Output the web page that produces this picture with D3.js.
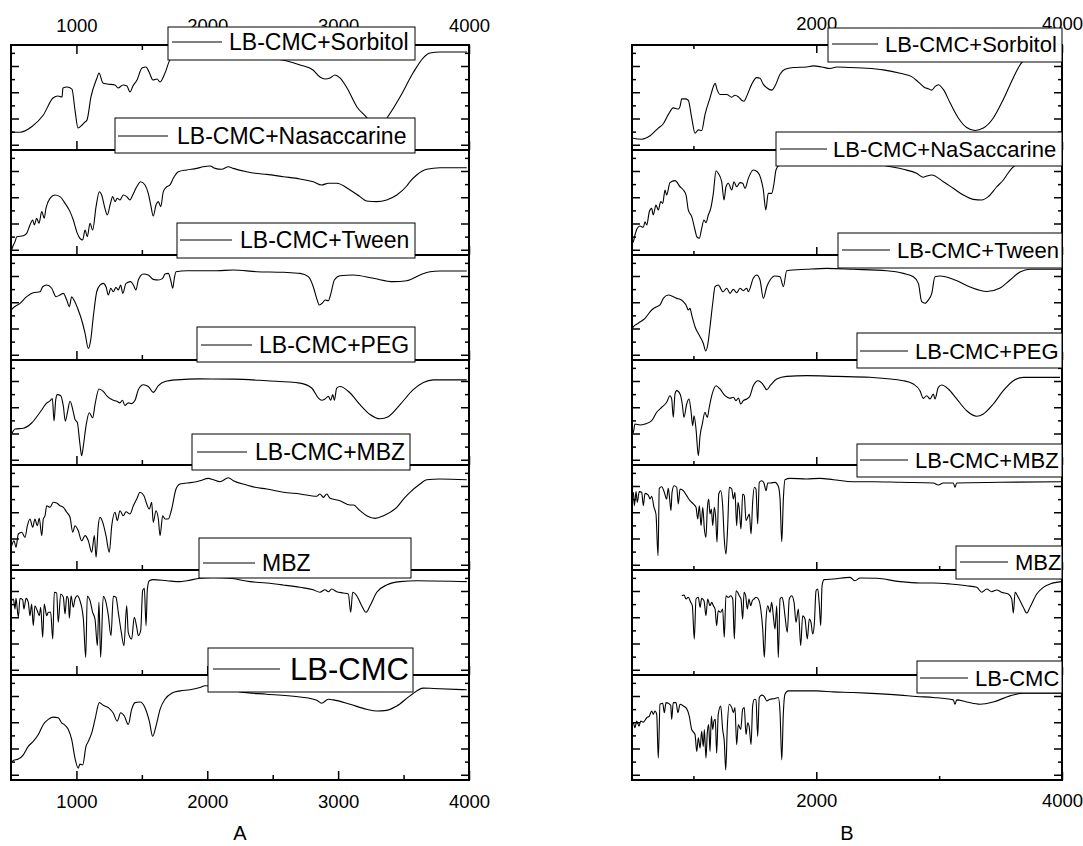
<!DOCTYPE html>
<html>
<head>
<meta charset="utf-8">
<script src="https://cdn.jsdelivr.net/npm/d3@7"></script>
<style>
  body { margin: 0; background: #fff; }
  svg { display: block; }
  text { font-family: "Liberation Sans", Arial, Helvetica, sans-serif; fill: #000; }
</style>
</head>
<body>
<svg id="chart" width="1083" height="846"></svg>
<script>
// ---------------- data ----------------
// wavenumber axis (cm-1)
const wavenumberDomain = [500, 4000];
const wavenumberTicksA = [1000, 2000, 3000, 4000];
const minorTicksA = [1500, 2500, 3500];
const wavenumberTicksB = [2000, 4000];
const minorTicksB = [1000, 3000];
// relative transmittance ticks inside every stacked layer
const transMajorTicks = [5, 30, 55, 80];
const transMinorTicks = [17.5, 42.5, 67.5, 92.5];

const panelTitles = ["A", "B"];
const sampleLabelsA = ["LB-CMC+Sorbitol", "LB-CMC+Nasaccarine", "LB-CMC+Tween", "LB-CMC+PEG", "LB-CMC+MBZ", "MBZ", "LB-CMC"];
const sampleLabelsB = ["LB-CMC+Sorbitol", "LB-CMC+NaSaccarine", "LB-CMC+Tween", "LB-CMC+PEG", "LB-CMC+MBZ", "MBZ", "LB-CMC"];

// spectra: [wavenumber, relative transmittance (0-100 within its layer)]
const specA1 = [[505,16.9],[518,16.9],[569,16.9],[658,22.2],[747,33.3],[821,49.5],[859,51.4],[890,50.5],[897,59],[928,60],[966,58],[989,38],[1012,21],[1043,23.8],[1066,26.7],[1081,28.6],[1111,50.5],[1157,68.6],[1172,73.3],[1203,63.8],[1234,62.9],[1295,61.9],[1318,59],[1356,61.9],[1386,61],[1409,55.2],[1432,61],[1463,66.7],[1501,78.1],[1532,79],[1555,74.3],[1585,66.7],[1616,67.6],[1639,64.8],[1677,73.3],[1715,85.7],[1792,91.4],[1944,92.4],[2174,90.5],[2403,88.6],[2609,84.8],[2709,81],[2808,76.2],[2861,69.5],[2900,67.6],[2938,68.6],[2976,71.4],[3014,68.6],[3068,59],[3144,41],[3221,30.5],[3260,24],[3297,22],[3335,24],[3373,30.5],[3473,50.5],[3572,73.3],[3649,87.6],[3702,92.4],[3778,93.3],[3985,93.3]];
const specA2 = [[505,5],[513,7.9],[531,12.7],[544,17.4],[594,18.4],[620,20.6],[645,28.6],[666,33.3],[678,28.6],[696,35],[714,30.2],[735,41.3],[754,35],[767,44.4],[798,54],[836,57.1],[874,55.6],[913,49.2],[951,41.3],[976,33.3],[1007,20.6],[1027,15.9],[1048,14.3],[1066,23.8],[1083,17.5],[1104,30.2],[1124,23.8],[1150,46],[1175,60.3],[1193,57.1],[1218,44.4],[1236,38.1],[1257,47.6],[1277,55.6],[1295,50.8],[1312,54],[1333,52.4],[1358,57.1],[1384,55.6],[1409,52.4],[1430,57.1],[1461,65],[1491,69.8],[1524,66.7],[1549,58.7],[1568,47.6],[1587,37.1],[1608,47.6],[1626,50.8],[1644,46],[1664,60.3],[1690,65],[1715,66.7],[1740,73],[1779,79.3],[1843,81],[1919,82.5],[1970,84.1],[2021,84.8],[2059,82.5],[2110,81.6],[2161,84.1],[2199,82.5],[2301,79.3],[2365,77.8],[2454,76.8],[2581,74.6],[2709,72.4],[2810,69.8],[2874,66.7],[2925,68.3],[2989,68.3],[3091,61.9],[3167,55.6],[3218,51.4],[3295,50.8],[3371,52.4],[3448,57.1],[3524,65.7],[3549,69.8],[3600,76.2],[3677,81.6],[3778,83.1],[3983,83.1]];
const specA3 = [[505,48],[513,49.2],[569,54],[620,60.3],[670,64.1],[722,65],[742,69.8],[773,71.4],[811,68.3],[844,60.3],[874,61.9],[900,63.5],[926,57.1],[946,50.8],[964,60.3],[981,57.1],[1014,47.6],[1040,38.1],[1066,25.4],[1091,11.1],[1109,19],[1129,41.3],[1155,65],[1180,71.4],[1205,73],[1226,69.8],[1244,61.9],[1262,68.3],[1282,65],[1302,69.2],[1320,66.7],[1338,71.4],[1354,63.5],[1379,73],[1415,74.6],[1435,71.4],[1455,66.7],[1473,76.2],[1511,81.9],[1549,81],[1587,76.8],[1626,76.2],[1659,77.8],[1677,81.9],[1702,82.5],[1720,76.2],[1736,68.3],[1748,77.8],[1761,84.1],[1843,85],[2072,85],[2199,85.7],[2378,84.1],[2581,83.5],[2709,82.5],[2772,79.4],[2810,69.8],[2836,58.7],[2856,52.4],[2882,54.6],[2900,57.1],[2925,56.5],[2945,63.5],[2971,76.2],[3014,80.3],[3116,81],[3269,77.8],[3422,74.6],[3524,75.5],[3626,81],[3702,84.1],[3778,84.8],[3983,84.8]];
const specA4 = [[505,29.5],[531,34.3],[594,35],[658,40],[722,50.2],[773,59],[798,61],[816,63.3],[829,42],[842,62.3],[854,67],[880,66],[900,56],[915,41.8],[933,51.2],[951,60.7],[972,52.8],[989,43.4],[1007,40.3],[1027,19.8],[1040,8.8],[1053,18.2],[1073,37],[1098,49.7],[1124,45],[1142,57.5],[1172,72.4],[1205,70.1],[1236,65.4],[1282,61.6],[1308,60.7],[1333,59.2],[1351,61.6],[1371,56.6],[1396,59.2],[1422,58.5],[1448,61.6],[1473,71.7],[1511,76.4],[1549,74.8],[1587,69.2],[1626,75.5],[1677,79.5],[1766,81.1],[1944,82],[2199,81.8],[2454,80.2],[2709,78],[2798,73.3],[2848,63.9],[2874,61.6],[2900,62.9],[2925,65.4],[2943,61.6],[2959,67],[2971,61.6],[2989,73.3],[3014,74.8],[3091,68.6],[3167,57.5],[3244,48.1],[3320,44],[3383,46],[3473,57.5],[3574,71.7],[3651,78.6],[3727,81.1],[3983,81.1]];
const specA5 = [[505,23.1],[523,27.9],[538,21.6],[556,34.3],[582,35.9],[607,31.1],[625,42.2],[645,48.6],[666,40.7],[683,48.6],[701,42.2],[716,49.2],[735,32.7],[747,48.6],[760,51.7],[773,61.2],[798,59.7],[823,64.5],[849,63.8],[874,61.2],[900,59.7],[926,55],[951,50.2],[972,35.9],[989,42.2],[1014,37.4],[1040,27.9],[1066,32.7],[1091,27.9],[1117,16.9],[1137,32.7],[1150,12.1],[1167,42.2],[1180,50.2],[1201,45.4],[1226,32.7],[1251,16.9],[1270,42.2],[1295,55],[1312,47],[1333,56.5],[1358,51.7],[1379,55.5],[1409,53.3],[1435,61.2],[1461,67.6],[1486,74],[1516,70.8],[1537,62.9],[1557,58.1],[1575,64.5],[1587,45.4],[1608,56.5],[1626,48.6],[1639,32.7],[1659,51.7],[1677,48.6],[1702,48.6],[1728,58.1],[1761,77.1],[1792,81.9],[1893,83.5],[1944,85],[2008,87.3],[2046,86],[2097,84.1],[2161,87.9],[2199,85],[2301,81],[2365,78.8],[2454,77.1],[2581,74],[2709,72.4],[2836,70.2],[2861,72.4],[2887,69.2],[2913,72.4],[2938,68.3],[3014,66],[3091,61.9],[3116,61.9],[3167,56.5],[3218,51.7],[3282,49.2],[3347,51.7],[3448,59.7],[3511,69.2],[3549,74],[3626,81.9],[3677,86],[3778,86.7],[3983,86]];
const specA6 = [[505,70.8],[518,72.4],[531,62.9],[538,73],[556,55],[569,73],[589,71.7],[599,62.9],[615,73],[632,69.2],[645,56.5],[658,67.6],[670,47],[683,66],[701,61.2],[716,56.5],[727,64.5],[742,35.9],[754,67.6],[773,56.5],[785,59.7],[803,59.7],[819,34.3],[831,78.8],[849,78.1],[861,50.2],[880,77.1],[900,74],[913,58.1],[926,75],[938,72.4],[946,54],[959,75.5],[976,64.5],[989,72.4],[1007,75.5],[1027,70.8],[1053,53.3],[1071,16.8],[1083,75],[1104,70.8],[1124,59.7],[1142,53.3],[1160,27.9],[1172,69.2],[1185,16.8],[1205,75],[1226,69.2],[1244,56.5],[1264,37.4],[1282,75],[1302,74],[1320,59.7],[1341,42.2],[1363,27.9],[1384,66],[1396,40.7],[1422,34.3],[1442,55],[1461,45.4],[1473,37.4],[1491,42.2],[1506,80.3],[1519,82.5],[1532,47],[1542,81.9],[1557,89.8],[1587,90.8],[1690,89.8],[1792,88.9],[1843,89.8],[1944,92.1],[2046,93],[2174,92.1],[2326,88.9],[2454,87.6],[2581,85.7],[2709,83.5],[2810,81.2],[2861,78.8],[2900,81.2],[2925,79.3],[2951,81.9],[2989,79.3],[3039,78.1],[3078,77.1],[3096,59.7],[3111,78.8],[3142,75.5],[3180,66],[3213,59.7],[3244,66],[3295,78.8],[3371,85.7],[3473,88.9],[3600,89.8],[3983,88.9]];
const specA7 = [[500,16],[518,18.6],[556,19.9],[594,24],[632,32],[670,36.8],[709,43.3],[747,52.9],[785,57.7],[823,59.9],[861,59.3],[887,54.5],[905,52.9],[938,48.1],[964,38.5],[989,20.9],[1014,11.2],[1027,15.1],[1048,14.4],[1073,32],[1091,36.8],[1117,44.9],[1142,57.7],[1175,73.7],[1205,71.2],[1244,68.9],[1282,63.5],[1312,56.1],[1338,64.1],[1366,60.9],[1396,52.9],[1422,67.3],[1448,73.7],[1486,74.3],[1524,68.9],[1557,56.1],[1583,41.6],[1608,51.3],[1639,67.3],[1677,76.9],[1728,82.7],[1792,84.9],[1868,85.9],[1944,88.1],[1983,89.7],[2100,88],[2250,83.9],[2454,81.7],[2709,79.1],[2836,76],[2874,73.1],[2925,76.9],[2963,76.3],[3091,72.1],[3218,67.3],[3295,65.7],[3371,66.3],[3448,70.5],[3549,80.1],[3651,87.5],[3727,87.2],[3983,85.9]];

const specB1 = [[502,11.5],[511,11.2],[579,10.3],[647,13.5],[714,20.9],[755,25],[795,33.7],[836,40.1],[877,39.1],[891,41.6],[905,48.7],[931,48.7],[958,47.4],[986,30.5],[1013,16],[1040,19.2],[1067,18.6],[1094,33.7],[1135,49.7],[1162,60.3],[1176,63.5],[1194,57],[1216,52.9],[1271,52.9],[1312,50.3],[1338,52.2],[1365,50.7],[1393,47.4],[1412,46.4],[1434,51.3],[1474,62.5],[1515,68.9],[1542,68.3],[1569,62.5],[1597,59.3],[1637,57],[1664,60.9],[1705,72.1],[1745,76.9],[1813,78.5],[1922,79.1],[1976,80.1],[2044,79.1],[2112,77.6],[2166,79.1],[2275,78.5],[2410,77.9],[2546,76.3],[2682,73.1],[2777,69.9],[2831,64.7],[2885,59.3],[2912,58.3],[2940,57],[2966,60.3],[2993,62.2],[3034,57.7],[3089,44.9],[3156,30.5],[3224,21.4],[3292,18.6],[3360,20.9],[3441,30.5],[3522,48.1],[3604,68.9],[3672,83.3],[3780,90],[4000,90.5]];
const specB2 = [[505,12],[511,12.7],[524,19],[543,25.4],[565,27.6],[592,26.4],[606,31.7],[620,28.6],[641,41.2],[660,44.4],[673,38.1],[695,47.6],[714,42.9],[734,50.8],[750,49.2],[769,61.9],[782,57.1],[809,68.9],[850,70.8],[891,65],[918,61.9],[940,57.1],[958,42.9],[986,36.5],[1013,23.8],[1027,17.5],[1048,15.9],[1067,25.4],[1086,33.3],[1102,30.8],[1121,38.1],[1141,44.4],[1162,58.7],[1184,80.3],[1202,77.8],[1230,69.8],[1249,52.4],[1265,65],[1284,68.3],[1312,61.9],[1330,69.8],[1352,65],[1379,68.9],[1401,68.3],[1420,63.5],[1447,73],[1487,81],[1520,79.3],[1548,73],[1569,61.9],[1589,42.9],[1609,58.7],[1637,58.7],[1656,68.3],[1672,81],[1699,85.7],[1868,90.5],[2112,91.4],[2437,88.6],[2573,84.8],[2708,81.6],[2817,77.8],[2871,74],[2899,75.2],[2940,76.2],[3034,69.8],[3115,63.5],[3197,57.1],[3278,53],[3347,52.4],[3400,55.6],[3469,65],[3522,71.4],[3550,76.2],[3591,82.5],[3658,87.6],[3780,88.6],[4000,88.6]];
const specB3 = [[505,30],[511,31.7],[551,35],[606,39.7],[660,47.6],[701,50.8],[728,52.4],[755,58.7],[795,61.9],[836,60.3],[864,58.7],[891,57.8],[918,55.5],[940,52.4],[958,47.6],[972,49.2],[986,42.9],[1013,31.7],[1054,22.2],[1080,15.9],[1100,8.6],[1116,14.3],[1135,31.7],[1157,54],[1176,69.8],[1202,71.4],[1241,65],[1271,68.3],[1298,63.5],[1325,67.3],[1352,64.1],[1379,68.3],[1406,66],[1434,68.3],[1447,65],[1487,77.8],[1515,81],[1542,76.2],[1569,58.7],[1597,69.8],[1624,76.2],[1664,80],[1705,79.3],[1732,69.8],[1759,85],[1922,86.4],[2085,87.3],[2301,86.4],[2573,85],[2708,82.5],[2790,79.3],[2831,73],[2858,55.5],[2885,54],[2912,57.1],[2940,63.5],[2966,79.3],[3007,80],[3129,76.2],[3251,69.5],[3387,65.2],[3496,68.6],[3577,76.2],[3658,83.8],[3740,86.4],[4000,86.4]];
const specB4 = [[505,30],[511,31.1],[524,39],[565,38.1],[606,39],[660,42.2],[701,50.2],[742,55],[782,59.7],[809,66],[823,62.9],[836,45.4],[850,67.6],[864,70.8],[891,67.6],[909,58.1],[923,45.4],[945,58.1],[964,62.9],[980,51.7],[994,37.4],[1005,46.9],[1021,34.3],[1040,8.9],[1054,27.9],[1072,39],[1094,50.2],[1113,45.4],[1129,55],[1149,66],[1184,75.5],[1216,72.4],[1257,66],[1298,63.5],[1325,64.5],[1347,61.3],[1366,63.8],[1385,58.1],[1406,61.3],[1434,62.9],[1461,66],[1487,75.5],[1528,80.3],[1564,77.1],[1597,71.7],[1629,76.2],[1678,81.9],[1759,84.4],[1922,85.1],[2166,84.4],[2437,83.5],[2708,80.3],[2790,77.1],[2844,70.8],[2871,63.5],[2899,66],[2926,62.9],[2953,67.6],[2966,62.9],[2993,74],[3021,76.2],[3075,72.4],[3143,62.9],[3224,51.7],[3306,46.4],[3360,48.6],[3441,58.1],[3522,70.8],[3604,80.3],[3685,83.5],[3984,83.5]];
const specB5 = [[505,72],[511,74],[519,61.2],[533,74.6],[543,64.5],[559,74.6],[579,74],[592,61.2],[606,73],[633,71.4],[647,67.6],[660,70.2],[679,59.7],[695,53.3],[712,13.6],[722,77.8],[742,79.3],[763,74],[782,67.6],[795,77.8],[809,64.5],[817,56.5],[826,74],[842,80.3],[864,78.8],[877,62.9],[891,77.1],[918,75.5],[945,70.8],[972,66],[999,62.9],[1021,59.7],[1035,48.6],[1048,61.2],[1062,42.2],[1076,59.7],[1089,39],[1102,31.1],[1113,58.1],[1124,67.6],[1135,53.3],[1146,58.1],[1157,42.2],[1170,59.7],[1181,50.2],[1192,26.4],[1206,72.4],[1222,75.5],[1238,61.2],[1251,29.5],[1265,15.2],[1279,42.2],[1292,78.8],[1312,77.1],[1325,67.6],[1338,74],[1352,42.2],[1363,64.5],[1373,58.1],[1387,39],[1401,72.4],[1414,70.8],[1428,47],[1442,50.2],[1455,53.3],[1469,34.3],[1482,64.5],[1496,78.8],[1509,77.1],[1523,43.8],[1536,83.5],[1556,85],[1574,82.9],[1591,75.5],[1605,82.9],[1629,82.9],[1664,83.5],[1691,79.7],[1705,67.6],[1719,27],[1732,67.6],[1745,86],[1786,87.3],[1922,86.7],[2030,87.3],[2139,86],[2301,84.1],[2464,84.1],[2682,83.5],[2953,82.9],[2993,81],[3034,82.9],[3115,82.9],[3129,78.8],[3143,82.9],[3496,83.5],[3998,84.1]];
const specB6 = [[905,75.5],[923,76.2],[940,72.4],[958,74],[978,69.2],[991,66],[1007,34.3],[1021,72.4],[1040,74],[1054,64.5],[1067,73],[1086,70.8],[1102,56.5],[1116,72.4],[1135,66],[1149,69.2],[1162,66],[1176,62.9],[1189,47],[1202,61.2],[1222,59.7],[1238,62.9],[1251,35.9],[1265,75.5],[1284,74],[1303,75.5],[1320,72.4],[1333,34.3],[1347,80.3],[1360,78.8],[1373,75.5],[1387,72.4],[1401,53.3],[1412,78.8],[1425,75.5],[1439,62.9],[1452,72.4],[1466,66],[1479,70.8],[1493,72.4],[1509,74],[1528,72.4],[1548,62.9],[1564,43.8],[1577,16.8],[1591,53.3],[1605,66],[1623,59.7],[1637,69.2],[1650,56.5],[1664,43.8],[1678,66],[1691,16.8],[1705,72.4],[1719,74],[1732,69.2],[1745,56.5],[1764,40.7],[1780,72.4],[1800,75.5],[1819,69.2],[1835,50.2],[1854,62.9],[1873,27.9],[1889,56.5],[1908,53.3],[1927,34.3],[1943,53.3],[1957,50.2],[1971,39],[1984,48.6],[1998,80.3],[2012,81.9],[2025,66],[2036,47],[2047,85],[2063,90.8],[2139,91.4],[2275,93],[2315,89.8],[2356,92.4],[2492,92.1],[2682,88.9],[2844,87.6],[2953,87.6],[3089,86.7],[3224,85],[3306,83.5],[3347,78.8],[3387,81.9],[3428,79.3],[3469,81],[3509,78.8],[3563,77.1],[3591,72.4],[3604,59],[3618,78.8],[3644,74],[3685,64.5],[3713,59],[3740,64.5],[3794,77.1],[3848,83.5],[3903,86.7],[3998,88.9]];
const specB7 = [[505,54],[511,54.5],[524,49.7],[538,56.1],[557,51.3],[571,56.1],[592,55.1],[620,59.3],[641,60.9],[660,65.7],[673,62.5],[687,65.7],[701,62.5],[714,20.9],[728,72.1],[750,73.1],[763,64.1],[777,73.7],[795,73.1],[815,71.2],[823,57.7],[836,73.7],[858,73.7],[874,64.1],[891,72.1],[918,70.5],[945,68],[966,60.9],[986,48.1],[1013,43.3],[1027,27.2],[1040,40.1],[1054,30.4],[1067,46.4],[1080,32],[1089,48.1],[1102,20.9],[1113,44.9],[1124,52.9],[1135,27.2],[1146,60.9],[1157,48.1],[1167,56.1],[1178,57.7],[1189,25.6],[1202,62.5],[1222,70.5],[1238,48.1],[1251,36.8],[1263,9.6],[1276,51.3],[1292,72.1],[1312,68.9],[1325,64.1],[1338,68.9],[1352,33.7],[1365,52.9],[1385,48.1],[1401,67.3],[1414,68.9],[1428,43.3],[1442,54.5],[1455,49.7],[1469,33.7],[1482,70.5],[1496,76.9],[1509,76.3],[1523,41.6],[1536,78.6],[1556,80.8],[1577,79.5],[1597,75.3],[1623,76.9],[1664,77.6],[1691,78.6],[1705,64.1],[1719,19.2],[1732,64.1],[1745,81.7],[1772,84.9],[1868,84.9],[2003,84.9],[2139,83.9],[2301,83.3],[2410,82.7],[2682,80.8],[2817,79.5],[2953,78.6],[3115,76.3],[3129,72.1],[3143,76.3],[3224,74.3],[3333,72.1],[3441,74.3],[3577,80.1],[3685,82.7],[3998,82.7]];

const spectraA = [specA1, specA2, specA3, specA4, specA5, specA6, specA7];
const spectraB = [specB1, specB2, specB3, specB4, specB5, specB6, specB7];

// ---------------- layout ----------------
const FONT = '"Liberation Sans", Arial, Helvetica, sans-serif';
const TICK_FONT = 18.5;
const panels = [
  {
    title: panelTitles[0], titleX: 240,
    left: 11, right: 469, top: 45, bottom: 780,
    spectra: spectraA, labels: sampleLabelsA,
    major: wavenumberTicksA, minor: minorTicksA,
    topPad: 13, bottomPad: 15, majorLen: 9, minorLen: 5,
    legends: [
      { box: [168, 27, 415, 60],  line: [172, 222, 42],  tx: 229, fs: 23 },
      { box: [115, 118, 415, 153], line: [118, 168, 136], tx: 177, fs: 23 },
      { box: [177, 223, 415, 258], line: [180, 232, 240], tx: 240, fs: 23 },
      { box: [197, 327, 415, 362], line: [201, 252, 345], tx: 259, fs: 23 },
      { box: [192, 434, 410, 470], line: [197, 247, 452], tx: 255, fs: 23 },
      { box: [199, 538, 411, 578], line: [203, 255, 563], tx: 262, fs: 23 },
      { box: [208, 648, 413, 692], line: [213, 280, 669], tx: 290, fs: 31 }
    ]
  },
  {
    title: panelTitles[1], titleX: 847,
    left: 632, right: 1062, top: 45, bottom: 780,
    spectra: spectraB, labels: sampleLabelsB,
    major: wavenumberTicksB, minor: minorTicksB,
    topPad: 15, bottomPad: 14, majorLen: 8, minorLen: 4,
    legends: [
      { box: [828, 28, 1062, 62],  line: [832, 878, 44],  tx: 885, fs: 22 },
      { box: [776, 132, 1062, 166], line: [780, 827, 149], tx: 833, fs: 22 },
      { box: [838, 233, 1062, 268], line: [842, 890, 250], tx: 897, fs: 22 },
      { box: [857, 333, 1062, 368], line: [860, 908, 351], tx: 915, fs: 22 },
      { box: [857, 444, 1062, 477], line: [860, 908, 460], tx: 915, fs: 22 },
      { box: [956, 546, 1062, 579], line: [960, 1008, 562], tx: 1015, fs: 22 },
      { box: [917, 661, 1062, 693], line: [920, 968, 678], tx: 975, fs: 22 }
    ]
  }
];

const svg = d3.select("#chart");
svg.append("rect").attr("width", 1083).attr("height", 846).attr("fill", "#fff");

function styleAxis(g, fontSize) {
  g.select(".domain").remove();
  g.selectAll("line").attr("stroke", "#000").attr("stroke-width", 1.5);
  g.selectAll("text").attr("font-family", FONT).attr("font-size", fontSize).attr("fill", "#000");
}

panels.forEach(p => {
  const nRows = p.spectra.length;
  const rowH = (p.bottom - p.top) / nRows;
  const x = d3.scaleLinear().domain(wavenumberDomain).range([p.left, p.right]);
  const g = svg.append("g");

  p.spectra.forEach((spec, i) => {
    const rowTop = p.top + i * rowH;
    const rowBottom = rowTop + rowH;
    const y = d3.scaleLinear().domain([0, 100]).range([rowBottom, rowTop]);

    // spectrum trace
    const line = d3.line()
      .x(d => x(d[0]))
      .y(d => y(d[1]))
      .curve(d3.curveMonotoneX);
    g.append("path")
      .datum(spec)
      .attr("d", line)
      .attr("fill", "none")
      .attr("stroke", "#000")
      .attr("stroke-width", 1.1)
      .attr("stroke-linejoin", "round");

    // inward y ticks, both sides
    [[d3.axisLeft, p.left], [d3.axisRight, p.right]].forEach(([ax, px]) => {
      g.append("g").attr("transform", `translate(${px},0)`)
        .call(ax(y).tickValues(transMajorTicks).tickSize(-8).tickFormat(""))
        .call(a => styleAxis(a, 0));
      g.append("g").attr("transform", `translate(${px},0)`)
        .call(ax(y).tickValues(transMinorTicks).tickSize(-4).tickFormat(""))
        .call(a => styleAxis(a, 0));
    });

    // inward x ticks on the bottom edge of every layer
    const isLast = i === nRows - 1;
    g.append("g").attr("transform", `translate(0,${rowBottom})`)
      .call(d3.axisBottom(x).tickValues(p.major).tickSize(-p.majorLen)
        .tickPadding(p.bottomPad)
        .tickFormat(isLast ? d3.format("d") : ""))
      .call(a => styleAxis(a, TICK_FONT));
    g.append("g").attr("transform", `translate(0,${rowBottom})`)
      .call(d3.axisBottom(x).tickValues(p.minor).tickSize(-p.minorLen).tickFormat(""))
      .call(a => styleAxis(a, 0));

    // layer separator
    if (!isLast) {
      g.append("line")
        .attr("x1", p.left).attr("x2", p.right)
        .attr("y1", rowBottom).attr("y2", rowBottom)
        .attr("stroke", "#000").attr("stroke-width", 2);
    }
  });

  // top axis with labels, ticks pointing down
  g.append("g").attr("transform", `translate(0,${p.top})`)
    .call(d3.axisTop(x).tickValues(p.major).tickSize(-p.majorLen)
      .tickPadding(p.topPad).tickFormat(d3.format("d")))
    .call(a => styleAxis(a, TICK_FONT));
  g.append("g").attr("transform", `translate(0,${p.top})`)
    .call(d3.axisTop(x).tickValues(p.minor).tickSize(-p.minorLen).tickFormat(""))
    .call(a => styleAxis(a, 0));

  // frame
  g.append("rect")
    .attr("x", p.left).attr("y", p.top)
    .attr("width", p.right - p.left).attr("height", p.bottom - p.top)
    .attr("fill", "none").attr("stroke", "#000").attr("stroke-width", 2);

  // legends
  p.legends.forEach((L, i) => {
    const lg = g.append("g");
    lg.append("rect")
      .attr("x", L.box[0]).attr("y", L.box[1])
      .attr("width", L.box[2] - L.box[0]).attr("height", L.box[3] - L.box[1])
      .attr("fill", "#fff").attr("stroke", "#000").attr("stroke-width", 1);
    lg.append("line")
      .attr("x1", L.line[0]).attr("x2", L.line[1])
      .attr("y1", L.line[2]).attr("y2", L.line[2])
      .attr("stroke", "#000").attr("stroke-width", 1);
    lg.append("text")
      .attr("x", L.tx).attr("y", L.line[2] + 0.36 * L.fs)
      .attr("font-size", L.fs)
      .text(p.labels[i]);
  });

  // panel title
  g.append("text")
    .attr("x", p.titleX).attr("y", 840)
    .attr("text-anchor", "middle")
    .attr("font-size", 20)
    .text(p.title);
});
</script>
</body>
</html>
